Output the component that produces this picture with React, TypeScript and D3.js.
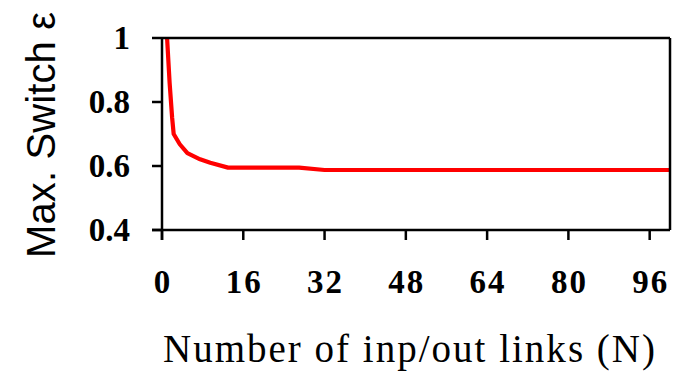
import React from "react";
import * as d3 from "d3";

const nValues = [1, 1.5, 2, 2.3, 3.5, 5, 7.5, 9.5, 13, 27, 32, 100];
const epsValues = [1.0, 0.86, 0.75, 0.7, 0.668, 0.64, 0.621, 0.61, 0.595, 0.595, 0.5875, 0.5875];
const xTicks = [0, 16, 32, 48, 64, 80, 96];
const yTicks = [0.4, 0.6, 0.8, 1];
const yTickLabels = ["0.4", "0.6", "0.8", "1"];
const xTitle = "Number of inp/out links (N)";
const yTitle = "Max.  Switch  ε";

export default function App() {
  const W = 683, H = 372;
  const x = d3.scaleLinear().domain([0, 100]).range([162, 670]);
  const y = d3.scaleLinear().domain([0.4, 1]).range([230, 38]);
  const line = d3
    .line<number>()
    .x((_, i) => x(nValues[i]))
    .y((d) => y(d));
  const serif = "'Liberation Serif', 'Times New Roman', serif";
  return (
    <svg width={W} height={H} style={{ position: "absolute", left: 0, top: 0 }}>
      <rect x={0} y={0} width={W} height={H} fill="#fff" />
      <defs>
        <clipPath id="pc">
          <rect x={162} y={38} width={508} height={192} />
        </clipPath>
      </defs>
      <path d={line(epsValues) || ""} fill="none" stroke="#ff0000" strokeWidth={4.2} strokeLinejoin="round" clipPath="url(#pc)" />
      <line x1={162} y1={38} x2={670} y2={38} stroke="#000" strokeWidth={2.5} />
      <line x1={670} y1={38} x2={670} y2={230} stroke="#000" strokeWidth={2.5} />
      <line x1={152} y1={230} x2={670} y2={230} stroke="#000" strokeWidth={2.5} />
      <line x1={162} y1={38} x2={162} y2={240} stroke="#000" strokeWidth={2.5} />
      {yTicks.map((t, i) => (
        <g key={"y" + t}>
          <line x1={152} x2={162} y1={y(t)} y2={y(t)} stroke="#000" strokeWidth={2.5} />
          <text x={130} y={y(t) + 11} textAnchor="end" fontFamily={serif} fontWeight="bold" fontSize={33}>
            {yTickLabels[i]}
          </text>
        </g>
      ))}
      {xTicks.map((t) => (
        <g key={"x" + t}>
          <line x1={x(t)} x2={x(t)} y1={230} y2={240} stroke="#000" strokeWidth={2.5} />
          <text x={x(t) + 1} y={293} textAnchor="middle" fontFamily={serif} fontWeight="bold" fontSize={33} letterSpacing={2}>
            {t}
          </text>
        </g>
      ))}
      <text x={163} y={362} fontFamily={serif} fontSize={39} textLength={492} lengthAdjust="spacing">
        {xTitle}
      </text>
      <text
        transform="translate(55,258) rotate(-90)"
        x={0}
        y={0}
        fontFamily="'Liberation Sans', Arial, sans-serif"
        fontSize={40}
        textLength={246}
        lengthAdjust="spacing"
      >
        {yTitle}
      </text>
    </svg>
  );
}
